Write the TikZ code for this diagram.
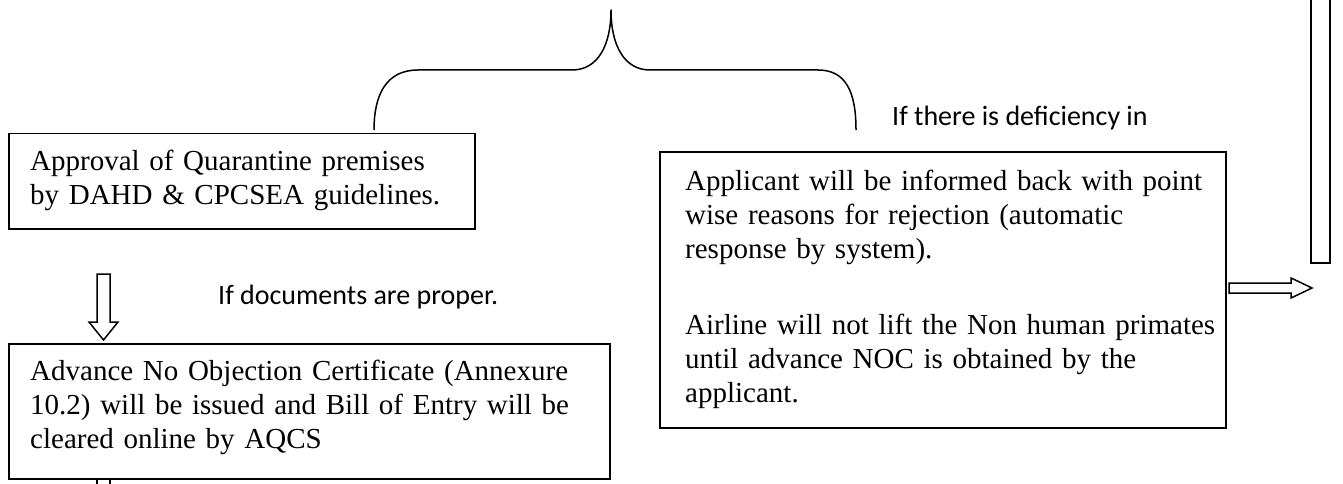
\documentclass[tikz,border=0pt]{standalone}
\usepackage{fontspec}
\setmainfont{Liberation Serif}
\newfontfamily\calfont{Carlito}
\begin{document}
\begin{tikzpicture}[x=1pt,y=-1pt,
  box/.style={draw, line width=1.5pt, inner sep=0pt, anchor=north west},
  bodytext/.style={anchor=north west, inner sep=0pt, text width=#1, align=left,
    font=\fontsize{29}{34}\selectfont},
  cond/.style={anchor=base west, inner sep=0pt, font=\calfont\fontsize{28}{32}\selectfont},
  ln/.style={line width=1.5pt, line join=miter},
  downarrow/.pic={\draw[ln] (-6.5,0) -- (-6.5,48) -- (-14.5,48) -- (0,66) -- (14.5,48) -- (6.5,48) -- (6.5,0) -- cycle;},
  rightarrow/.pic={\draw[ln] (0,-5) -- (62,-5) -- (62,-10) -- (83,0) -- (62,10) -- (62,5) -- (0,5) -- cycle;},
]
\useasboundingbox (0,0) rectangle (1343,484);

% boxes
\node[box, minimum width=466pt, minimum height=95pt] (appr) at (8,133) {};
\node[box, minimum width=566pt, minimum height=276pt] (appl) at (659,151) {};
\node[box, minimum width=601pt, minimum height=135pt] (adv) at (8,343) {};
\node[box, minimum width=19pt, minimum height=270pt] (tall) at (1310,-8) {};

% texts
\node[bodytext=422pt] (apprtext) at ([xshift=22pt,yshift=-17pt]appr.north west)
  {\makebox[\linewidth][s]{Approval of Quarantine premises}\\
   \mbox{by DAHD \& CPCSEA guidelines.}};
\node[bodytext=516pt] (appltext) at ([xshift=26pt,yshift=-19pt]appl.north west)
  {\makebox[\linewidth][s]{Applicant will be informed back with point}\\
   \makebox[\linewidth][s]{wise reasons for rejection (automatic}\\
   \mbox{response by system).}\\[42pt]
   \mbox{Airline will not lift the Non human primates}\\
   \mbox{until advance NOC is obtained by the}\\
   \mbox{applicant.}};
\node[bodytext=570pt] (advtext) at ([xshift=22pt,yshift=-17pt]adv.north west)
  {\mbox{Advance No Objection Certificate (Annexure}\\
   \mbox{10.2) will be issued and Bill of Entry will be}\\
   \mbox{cleared online by AQCS}};

% condition labels
\node[cond] (c1) at (218,304) {If documents are proper.};
\node[cond] (c2) at (892,126) {If there is deficiency in};

% brace
\coordinate (cusp) at (611,10);
\coordinate (bl) at (374,130);
\coordinate (br) at (856,130);
\draw[ln, line join=round] (bl) .. controls (374,95) and (386,70) .. (418,70) -- (572,70)
  .. controls (598,70) and (611,45) .. (cusp)
  .. controls (611,45) and (624,70) .. (650,70) -- (818,70)
  .. controls (846,70) and (856,92) .. (br);

% block arrows
\coordinate (a1) at (103.5,274);
\pic at (a1) {downarrow};
\coordinate (a2) at (1229,288);
\pic at (a2) {rightarrow};
\draw[ln] (97,478) -- (97,490) (110,478) -- (110,490);
\end{tikzpicture}
\end{document}
